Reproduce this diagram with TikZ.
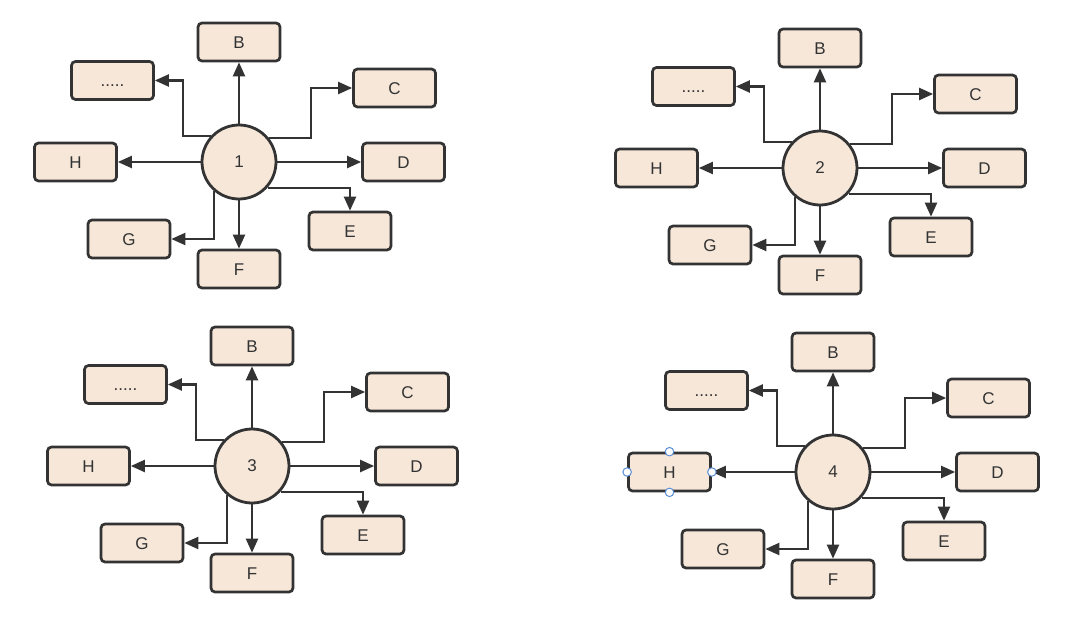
\documentclass[tikz,border=0pt]{standalone}
\usepackage{fontspec}
\setmainfont{Liberation Sans}
\usetikzlibrary{arrows.meta,calc}
\definecolor{boxfill}{HTML}{F6E7D9}
\definecolor{ink}{HTML}{333333}
\definecolor{handleblue}{HTML}{5B8FD6}
\tikzset{
  box/.style={draw=ink, fill=boxfill, line width=2.7pt, rounded corners=4pt,
    minimum width=82pt, minimum height=38pt, inner sep=0pt,
    text height=12pt, text depth=0pt,
    font=\fontsize{17}{19}\selectfont, text=ink},
  circ/.style={draw=ink, fill=boxfill, line width=2.8pt, circle,
    minimum size=74pt, inner sep=0pt, font=\fontsize{17}{19}\selectfont, text=ink},
  arr/.style={draw=ink, line width=2.2pt, -{Triangle[length=14pt,width=12pt]}},
  handle/.style={circle, draw=handleblue, fill=white, line width=1pt,
    minimum size=8.5pt, inner sep=0pt}
}
\newcommand{\grp}[4]{%
  \node[circ] (c#1) at (#2,#3) {#4};
  \node[box] (b#1) at ($(c#1)+(0,-120)$) {B};
  \node[box] (d#1) at ($(c#1)+(-126.5,-81.5)$) {.....};
  \node[box] (cc#1) at ($(c#1)+(155.5,-74)$) {C};
  \node[box] (h#1) at ($(c#1)+(-163.5,0)$) {H};
  \node[box] (dd#1) at ($(c#1)+(164.5,0)$) {D};
  \node[box] (e#1) at ($(c#1)+(111,69)$) {E};
  \node[box] (f#1) at ($(c#1)+(0,107)$) {F};
  \node[box] (g#1) at ($(c#1)+(-110,77)$) {G};
  \coordinate (kd#1) at ($(c#1)+(-56,0)$);
  \coordinate (kc#1) at ($(c#1)+(72,0)$);
  \draw[arr] (c#1.north) -- (b#1.south);
  \draw[arr] (c#1.west) -- (h#1.east);
  \draw[arr] (c#1.east) -- (dd#1.west);
  \draw[arr] (c#1.south) -- (f#1.north);
  \draw[arr] (c#1.137) -- (c#1.137 -| kd#1) |- (d#1.east);
  \draw[arr] (c#1.38) -- (c#1.38 -| kc#1) |- (cc#1.west);
  \draw[arr] (c#1.-42) -| (e#1.north);
  \draw[arr] (c#1.230) |- (g#1.east);
}
\begin{document}
\begin{tikzpicture}[x=1pt,y=-1pt]
\fill[white] (0,0) rectangle (1080,640);
\useasboundingbox (0,0) rectangle (1080,640);
\grp{1}{239}{162}{1}
\grp{2}{820}{168}{2}
\grp{3}{252}{466}{3}
\grp{4}{833}{472}{4}
\node[handle] (hn) at (h4.north) {};
\node[handle] (hs) at (h4.south) {};
\node[handle] (he) at (h4.east) {};
\node[handle] (hw) at (h4.west) {};
\end{tikzpicture}
\end{document}
